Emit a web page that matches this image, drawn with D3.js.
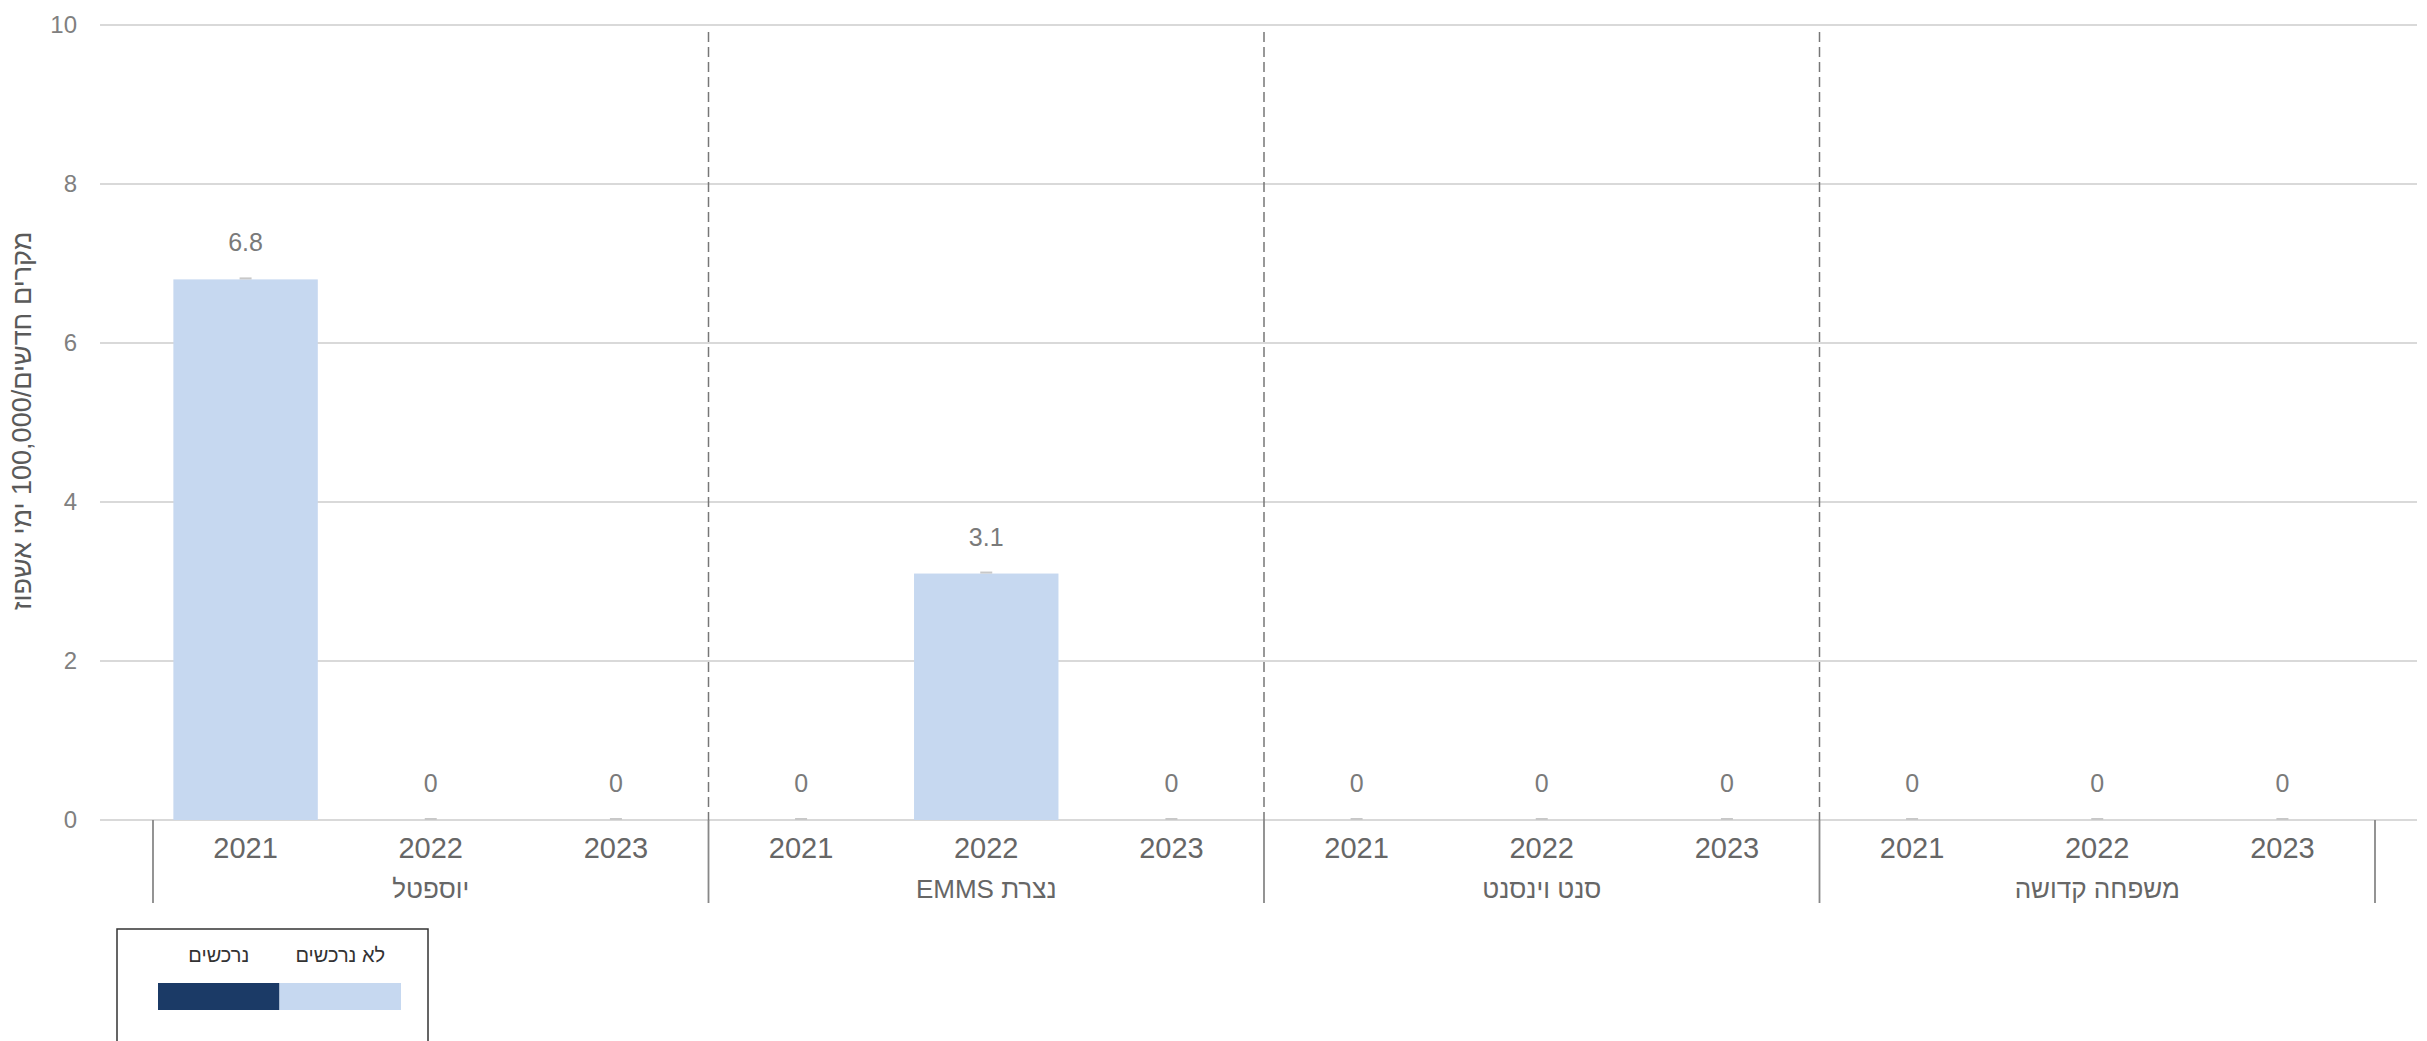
<!DOCTYPE html>
<html>
<head>
<meta charset="utf-8">
<script src="https://cdn.jsdelivr.net/npm/d3@7"></script>
<style>
  html, body { margin: 0; padding: 0; background: #fff; }
  svg { display: block; font-family: "Liberation Sans", Arial, sans-serif; }
</style>
</head>
<body>
<svg id="chart" width="2427" height="1041"></svg>
<script>
// ---- data ----
const categories = ["יוספטל", "נצרת EMMS", "סנט וינסנט", "משפחה קדושה"];
const years = ["2021", "2022", "2023"];
const notPurchased = [ // לא נרכשים
  [6.8, 0, 0],
  [0, 3.1, 0],
  [0, 0, 0],
  [0, 0, 0]
];
const purchased = [ // נרכשים
  [0, 0, 0],
  [0, 0, 0],
  [0, 0, 0],
  [0, 0, 0]
];
const yTicks = [0, 2, 4, 6, 8, 10];
const seriesNames = ["נרכשים", "לא נרכשים"];
const yTitle = "מקרים חדשים/100,000 ימי אשפוז";

// ---- layout ----
const svg = d3.select("#chart");
const gridLeft = 100, gridRight = 2417;
const x0 = d3.scaleBand().domain(categories).range([153, 2375]).padding(0);
const x1 = d3.scaleBand().domain(years).range([0, x0.bandwidth()]).paddingInner(0.22).paddingOuter(0.11);
const y = d3.scaleLinear().domain([0, 10]).range([820, 25]);

const colLight = "#c6d8f0";
const colDark = "#1b3a66";

// gridlines
svg.append("g").selectAll("line").data(yTicks).join("line")
  .attr("x1", gridLeft).attr("x2", gridRight)
  .attr("y1", d => y(d)).attr("y2", d => y(d))
  .attr("stroke", "#d9d9d9").attr("stroke-width", 2);

// y tick labels
svg.append("g").selectAll("text").data(yTicks).join("text")
  .attr("x", 77).attr("y", d => y(d)).attr("dy", "0.35em")
  .attr("text-anchor", "end").attr("font-size", 24).attr("fill", "#808080")
  .text(d => d);

// y title
svg.append("text")
  .attr("transform", `translate(31, 421) rotate(-90)`)
  .attr("text-anchor", "middle").attr("direction", "rtl")
  .attr("font-size", 27).attr("fill", "#5a5a5a")
  .text(yTitle);

// dashed separators inside plot
svg.append("g").selectAll("line").data(categories.slice(1)).join("line")
  .attr("x1", d => x0(d)).attr("x2", d => x0(d))
  .attr("y1", 32).attr("y2", y(0))
  .attr("stroke", "#777").attr("stroke-width", 1.5)
  .attr("stroke-dasharray", "10,5");

// bars
const rows = [];
categories.forEach((c, i) => years.forEach((yr, j) => {
  rows.push({ c, yr, np: notPurchased[i][j], p: purchased[i][j] });
}));

const g = svg.append("g");
g.selectAll("rect.np").data(rows).join("rect").attr("class", "np")
  .attr("x", d => x0(d.c) + x1(d.yr)).attr("width", x1.bandwidth())
  .attr("y", d => y(d.p + d.np)).attr("height", d => y(d.p) - y(d.p + d.np))
  .attr("fill", colLight);
g.selectAll("rect.p").data(rows).join("rect").attr("class", "p")
  .attr("x", d => x0(d.c) + x1(d.yr)).attr("width", x1.bandwidth())
  .attr("y", d => y(d.p)).attr("height", d => y(0) - y(d.p))
  .attr("fill", colDark);

// small markers at totals
g.selectAll("line.mk").data(rows).join("line").attr("class", "mk")
  .attr("x1", d => x0(d.c) + x1(d.yr) + x1.bandwidth() / 2 - 6)
  .attr("x2", d => x0(d.c) + x1(d.yr) + x1.bandwidth() / 2 + 6)
  .attr("y1", d => y(d.p + d.np) - 1).attr("y2", d => y(d.p + d.np) - 1)
  .attr("stroke", "#c8c8c8").attr("stroke-width", 2);

// value labels
g.selectAll("text.val").data(rows).join("text").attr("class", "val")
  .attr("x", d => x0(d.c) + x1(d.yr) + x1.bandwidth() / 2)
  .attr("y", d => y(d.p + d.np) - 28)
  .attr("text-anchor", "middle").attr("font-size", 25).attr("fill", "#7a7a7a")
  .text(d => d3.format("~")(+(d.p + d.np).toFixed(1)));

// year labels
g.selectAll("text.yr").data(rows).join("text").attr("class", "yr")
  .attr("x", d => x0(d.c) + x1(d.yr) + x1.bandwidth() / 2)
  .attr("y", 858)
  .attr("text-anchor", "middle").attr("font-size", 29).attr("fill", "#666")
  .text(d => d.yr);

// category labels
svg.append("g").selectAll("text").data(categories).join("text")
  .attr("x", d => x0(d) + x0.bandwidth() / 2).attr("y", 898)
  .attr("text-anchor", "middle").attr("direction", "rtl")
  .attr("font-size", 26).attr("fill", "#666")
  .text(d => d);

// solid separators below axis
const seps = categories.map(c => x0(c)).concat([x0(categories[categories.length - 1]) + x0.bandwidth()]);
svg.append("g").selectAll("line").data(seps).join("line")
  .attr("x1", d => d).attr("x2", d => d)
  .attr("y1", y(0)).attr("y2", 903)
  .attr("stroke", "#888").attr("stroke-width", 1.8);

// legend
const lg = svg.append("g");
lg.append("rect").attr("x", 117).attr("y", 929).attr("width", 311).attr("height", 140)
  .attr("fill", "#fff").attr("stroke", "#333").attr("stroke-width", 1.5);
const legendX = d3.scaleBand().domain(seriesNames).range([158, 401]);
const legendColor = d3.scaleOrdinal().domain(seriesNames).range([colDark, colLight]);
lg.selectAll("rect.sw").data(seriesNames).join("rect").attr("class", "sw")
  .attr("x", d => legendX(d)).attr("width", legendX.bandwidth())
  .attr("y", 983).attr("height", 27)
  .attr("fill", d => legendColor(d));
lg.selectAll("text").data(seriesNames).join("text")
  .attr("x", d => legendX(d) + legendX.bandwidth() / 2).attr("y", 962)
  .attr("text-anchor", "middle").attr("direction", "rtl")
  .attr("font-size", 20).attr("fill", "#333")
  .text(d => d);
</script>
</body>
</html>
